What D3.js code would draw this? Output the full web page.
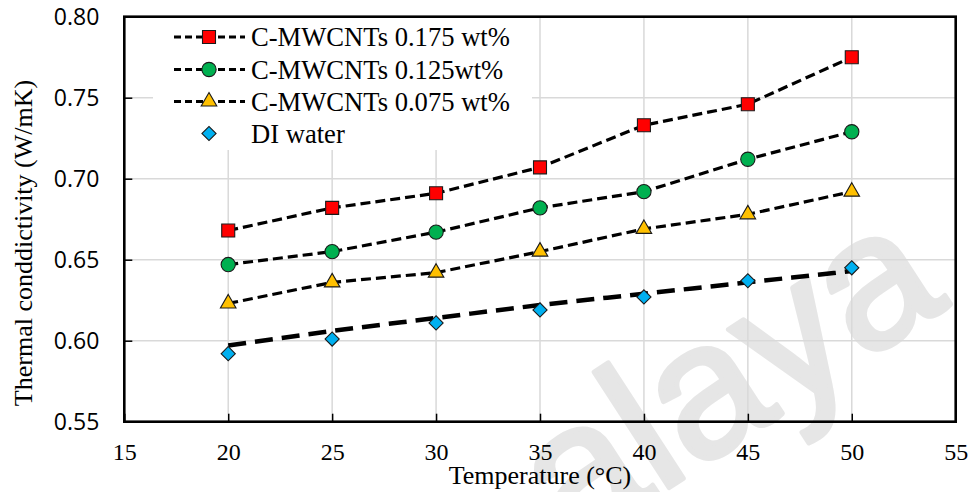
<!DOCTYPE html>
<html>
<head>
<meta charset="utf-8">
<script src="https://cdn.jsdelivr.net/npm/d3@7"></script>
<style>
  html, body { margin: 0; padding: 0; background: #ffffff; }
  svg { display: block; }
</style>
</head>
<body>
<svg id="chart" width="974" height="492"></svg>
<script>
// Thermal conductivity of C-MWCNT nanofluids vs. temperature
const temperatures = [20, 25, 30, 35, 40, 45, 50];
const cnt0175 = [0.668, 0.682, 0.691, 0.707, 0.733, 0.746, 0.775];
const cnt0125 = [0.647, 0.655, 0.667, 0.682, 0.692, 0.712, 0.729];
const cnt0075 = [0.623, 0.636, 0.642, 0.655, 0.669, 0.678, 0.692];
const diWater = [0.592, 0.601, 0.611, 0.619, 0.627, 0.637, 0.645];
// trend curve through the DI water measurements
const diWaterTrend = [0.597, 0.606, 0.614, 0.622, 0.629, 0.636, 0.643];

const seriesNames = ["C-MWCNTs 0.175 wt%", "C-MWCNTs 0.125wt%", "C-MWCNTs 0.075 wt%", "DI water"];
const xTickValues = [15, 20, 25, 30, 35, 40, 45, 50, 55];
const yTickValues = [0.55, 0.60, 0.65, 0.70, 0.75, 0.80];
const xGridValues = [20, 25, 30, 35, 40, 45, 50];
const yGridValues = [0.60, 0.65, 0.70, 0.75];
const xTitle = "Temperature (°C)";
const yTitle = "Thermal conddictivity (W/mK)";
const watermarkText = "alaya";

const svg = d3.select("#chart");
const plot = { left: 124.3, right: 955.7, top: 16.7, bottom: 421.7 };

const x = d3.scaleLinear().domain([15, 55]).range([plot.left, plot.right]);
const y = d3.scaleLinear().domain([0.55, 0.80]).range([plot.bottom, plot.top]);

const serif = "'Liberation Serif', 'Times New Roman', serif";
const sans = "'Open Sans', 'Noto Sans', sans-serif";

// faint diagonal watermark
const wmAngle = 33, wmSize = 190;
svg.append("text")
  .attr("transform", `translate(570,552) rotate(${-wmAngle})`)
  .attr("font-family", "'Liberation Sans', Arial, sans-serif")
  .attr("font-size", wmSize)
  .attr("fill", "#e6e6e6")
  .attr("stroke", "#e6e6e6")
  .attr("stroke-width", 5)
  .attr("stroke-linejoin", "round")
  .text(watermarkText);

// gridlines
svg.append("g").selectAll("line").data(xGridValues).join("line")
  .attr("x1", d => x(d)).attr("x2", d => x(d))
  .attr("y1", plot.top).attr("y2", plot.bottom)
  .attr("stroke", "#d9d9d9").attr("stroke-width", 1.5);
svg.append("g").selectAll("line").data(yGridValues).join("line")
  .attr("x1", plot.left).attr("x2", plot.right)
  .attr("y1", d => y(d)).attr("y2", d => y(d))
  .attr("stroke", "#d9d9d9").attr("stroke-width", 1.5);

// axes with inward ticks
const yAxis = d3.axisLeft(y).tickValues(yTickValues).tickFormat(d3.format(".2f"))
  .tickSizeInner(-8).tickSizeOuter(0).tickPadding(25);
const gy = svg.append("g").attr("transform", `translate(${plot.left},0)`).call(yAxis);
gy.select(".domain").remove();
gy.selectAll(".tick line").attr("stroke", "#000").attr("stroke-width", 1.5);
gy.selectAll(".tick text").attr("font-family", sans).attr("font-size", 23).attr("fill", "#000");

const xAxis = d3.axisBottom(x).tickValues(xTickValues).tickFormat(d3.format("d"))
  .tickSizeInner(-8).tickSizeOuter(0).tickPadding(21);
const gx = svg.append("g").attr("transform", `translate(0,${plot.bottom})`).call(xAxis);
gx.select(".domain").remove();
gx.selectAll(".tick line").attr("stroke", "#000").attr("stroke-width", 1.5);
gx.selectAll(".tick text").attr("font-family", serif).attr("font-size", 24).attr("fill", "#000");

// plot frame
svg.append("rect")
  .attr("x", plot.left).attr("y", plot.top)
  .attr("width", plot.right - plot.left).attr("height", plot.bottom - plot.top)
  .attr("fill", "none").attr("stroke", "#000").attr("stroke-width", 2.6);

// axis titles
svg.append("text")
  .attr("x", (plot.left + plot.right) / 2).attr("y", 484)
  .attr("text-anchor", "middle")
  .attr("font-family", serif).attr("font-size", 26).attr("fill", "#000")
  .text(xTitle);
svg.append("text")
  .attr("transform", "translate(32,243) rotate(-90)")
  .attr("text-anchor", "middle")
  .attr("font-family", serif).attr("font-size", 26).attr("fill", "#000")
  .text(yTitle);

// marker definitions
const markers = [
  { type: d3.symbolSquare, size: 169, fill: "#ff0000", rot: 0 },
  { type: d3.symbolCircle, size: 160, fill: "#00b050", rot: 0 },
  { type: d3.symbolTriangle, size: 105, fill: "#ffc000", rot: 0 },
  { type: d3.symbolSquare, size: 100, fill: "#00b0f0", rot: 45 }
];

function drawMarker(g, m, cx, cy) {
  g.append("path")
    .attr("d", d3.symbol().type(m.type).size(m.size)())
    .attr("transform", `translate(${cx},${cy}) rotate(${m.rot})`)
    .attr("fill", m.fill)
    .attr("stroke", "#1a1a1a")
    .attr("stroke-width", 1.1);
}

// legend with white backing
const legend = svg.append("g");
legend.append("rect")
  .attr("x", 153).attr("y", 18).attr("width", 379).attr("height", 132)
  .attr("fill", "#ffffff");
const legendRows = [37, 69.5, 101.5, 133.5];
seriesNames.forEach((name, i) => {
  const ry = legendRows[i];
  if (i < 3) {
    legend.append("line")
      .attr("x1", 174).attr("x2", 245).attr("y1", ry).attr("y2", ry)
      .attr("stroke", "#000").attr("stroke-width", 3)
      .attr("stroke-dasharray", "7,4");
  }
  drawMarker(legend, markers[i], 209, ry);
  legend.append("text")
    .attr("x", 251).attr("y", ry + 9)
    .attr("font-family", serif).attr("font-size", 26.6).attr("fill", "#000")
    .text(name);
});

// dashed series lines
const line = d3.line().x((d, i) => x(temperatures[i])).y(d => y(d));
[cnt0175, cnt0125, cnt0075].forEach(vals => {
  svg.append("path")
    .attr("d", line(vals))
    .attr("fill", "none")
    .attr("stroke", "#000").attr("stroke-width", 3.2)
    .attr("stroke-dasharray", "10,5");
});

// DI water trend curve
const trendLine = d3.line().curve(d3.curveMonotoneX)
  .x((d, i) => x(temperatures[i])).y(d => y(d));
svg.append("path")
  .attr("d", trendLine(diWaterTrend))
  .attr("fill", "none")
  .attr("stroke", "#000").attr("stroke-width", 4.5)
  .attr("stroke-dasharray", "18,9");

// data markers
[cnt0175, cnt0125, cnt0075, diWater].forEach((vals, si) => {
  const g = svg.append("g");
  vals.forEach((v, i) => drawMarker(g, markers[si], x(temperatures[i]), y(v)));
});
</script>
</body>
</html>
